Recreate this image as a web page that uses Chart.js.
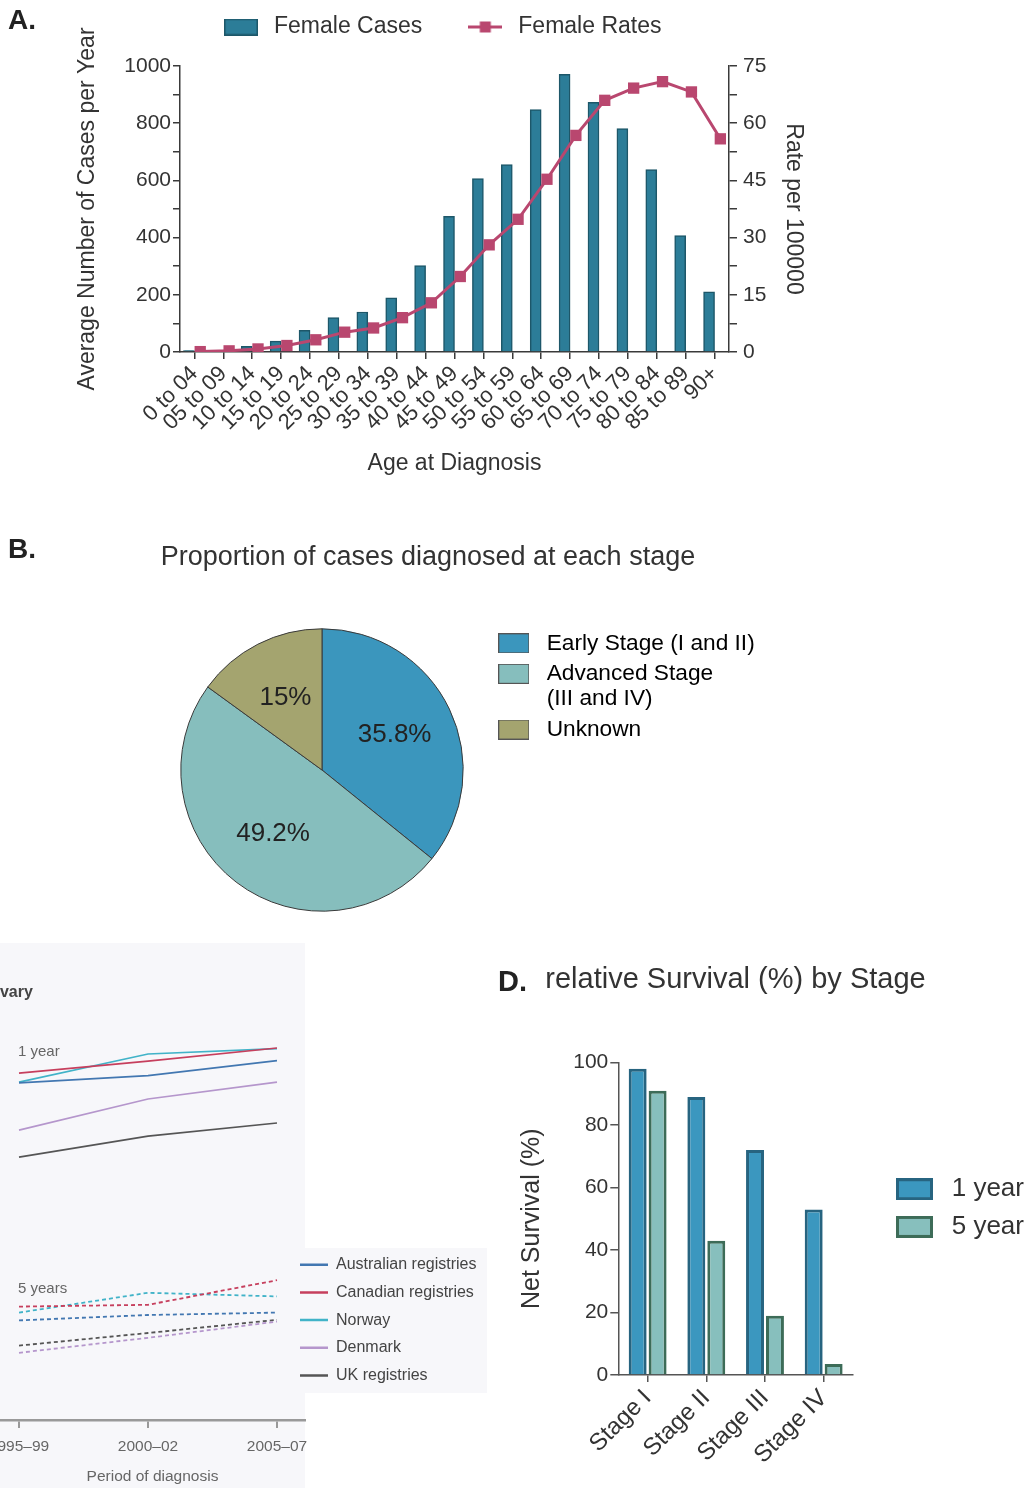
<!DOCTYPE html>
<html>
<head>
<meta charset="utf-8">
<title>Ovarian cancer figure</title>
<script src="https://cdn.jsdelivr.net/npm/chart.js@4.4.1/dist/chart.umd.min.js"></script>
<style>
  body { margin: 0; background: #fff; }
  #page { position: relative; width: 1026px; height: 1488px; overflow: hidden; font-family: 'Liberation Sans', Arial, sans-serif; }
  canvas { position: absolute; }
  .tag { position: absolute; font-weight: bold; color: #222; line-height: 1; }
  .paper { position: absolute; background: #f7f7fa; }
</style>
</head>
<body>
<div id="page">
  <div class="paper" style="left:0; top:943px; width:305px; height:545px"></div>
  <div class="paper" style="left:295px; top:1248px; width:192px; height:145px"></div>
  <canvas id="chartA" width="880" height="509" style="left:0; top:-9px"></canvas>
  <canvas id="chartB" width="856" height="400" style="left:0; top:530px"></canvas>
  <canvas id="chartC" width="500" height="545" style="left:0; top:943px"></canvas>
  <canvas id="chartD" width="581" height="538" style="left:445px; top:950px"></canvas>
  <div class="tag" style="left:8px; top:6px; font-size:28px">A.</div>
  <div class="tag" style="left:8px; top:535px; font-size:28px">B.</div>
  <div class="tag" style="left:498px; top:967px; font-size:29px">D.</div>
</div>
<script>
'use strict'

// Panel A: cases and rates by age
const ageGroups = ['0 to 04', '05 to 09', '10 to 14', '15 to 19', '20 to 24', '25 to 29', '30 to 34',
  '35 to 39', '40 to 44', '45 to 49', '50 to 54', '55 to 59', '60 to 64', '65 to 69', '70 to 74',
  '75 to 79', '80 to 84', '85 to 89', '90+'];
const femaleCases = [5, 6, 20, 38, 76, 120, 140, 189, 302, 474, 606, 655, 848, 971, 873, 781, 638, 407, 210];
const femaleRates = [0.1, 0.3, 0.8, 1.7, 3.2, 5.2, 6.3, 9.0, 12.9, 19.8, 28.1, 34.8, 45.3, 56.8, 66.0, 69.2, 70.9, 68.2, 55.9];

// Panel B: stage at diagnosis
const stageGroups = [['Early Stage (I and II)'], ['Advanced Stage', '(III and IV)'], ['Unknown']];
const stageShares = [35.8, 49.2, 15];

// Panel C: survival trends by registry
const periods = ['1995–99', '2000–02', '2005–07'];
const registries = ['Australian registries', 'Canadian registries', 'Norway', 'Denmark', 'UK registries'];
const oneYearAustralia = [74.2, 75.4, 77.9];
const oneYearCanada = [75.8, 77.8, 80.0];
const oneYearNorway = [74.3, 79.0, 79.9];
const oneYearDenmark = [66.3, 71.5, 74.3];
const oneYearUK = [61.8, 65.3, 67.5];
const fiveYearAustralia = [34.6, 35.5, 35.9];
const fiveYearCanada = [36.9, 37.2, 41.3];
const fiveYearNorway = [35.9, 39.2, 38.6];
const fiveYearDenmark = [29.2, 31.7, 34.4];
const fiveYearUK = [30.4, 32.5, 34.7];

// Panel D: survival by stage
const stages = ['Stage I', 'Stage II', 'Stage III', 'Stage IV'];
const oneYearByStage = [98, 89, 72, 53];
const fiveYearByStage = [91, 43, 19, 3.5];

Chart.defaults.font.family = "'Liberation Sans', Arial, sans-serif";
Chart.defaults.color = '#333';
Chart.defaults.animation = false;

const sans = "'Liberation Sans', Arial, sans-serif";
const narrow = "'Liberation Sans Narrow', 'Liberation Sans', sans-serif";
const ink = '#3a3a3a';

// moves a legend after layout (dx / dy in px), extend widens its clip box
const legendOffset = {
  id: 'legendOffset',
  afterLayout(chart, args, opts) {
    const lg = chart.legend;
    if (!lg || !opts) return;
    const dx = opts.dx || 0;
    const dy = opts.dy || 0;
    lg.left += dx; lg.right += dx + (opts.extend || 0);
    lg.width += opts.extend || 0;
    lg.top += dy; lg.bottom += dy;
  }
};
Chart.register(legendOffset);

function makeIcon(w, h, paint) {
  const c = document.createElement('canvas');
  c.width = w;
  c.height = h;
  paint(c.getContext('2d'), w, h);
  return c;
}

// ---------- A ----------
const caseFill = '#2c7d98';
const caseEdge = '#1d5769';
const rateColor = '#b9476f';

const casesIcon = makeIcon(34, 17, (g, w, h) => {
  g.fillStyle = caseFill; g.fillRect(0, 0, w, h);
  g.strokeStyle = caseEdge; g.lineWidth = 1.5; g.strokeRect(0.75, 0.75, w - 1.5, h - 1.5);
});
const ratesIcon = makeIcon(34, 17, (g, w, h) => {
  g.strokeStyle = rateColor; g.lineWidth = 3;
  g.beginPath(); g.moveTo(0, h / 2); g.lineTo(w, h / 2); g.stroke();
  g.fillStyle = rateColor; g.fillRect(w / 2 - 5.5, h / 2 - 5.5, 11, 11);
});

// the left title is longer than the axis, so it is drawn here instead of the scale title
const sideTitle = {
  id: 'sideTitle',
  afterDraw(chart, args, opts) {
    const s = chart.scales[opts.axis];
    const ctx = chart.ctx;
    ctx.save();
    ctx.translate(s.left + opts.inset, (s.top + s.bottom) / 2);
    ctx.rotate(-Math.PI / 2);
    ctx.font = opts.size + 'px ' + sans;
    ctx.fillStyle = '#333';
    ctx.textAlign = 'center';
    ctx.textBaseline = 'middle';
    ctx.fillText(opts.text, 0, 0);
    ctx.restore();
  }
};

const barShift = -0.19;
const markerShift = 0.2;

new Chart(document.getElementById('chartA'), {
  type: 'bar',
  data: {
    datasets: [
      {
        type: 'line',
        label: 'Female Rates',
        data: femaleRates.map((v, i) => ({ x: i + markerShift, y: v })),
        yAxisID: 'yRate',
        borderColor: rateColor,
        backgroundColor: rateColor,
        borderWidth: 3,
        pointStyle: 'rect',
        pointRadius: 8,
        pointBorderWidth: 0,
        tension: 0
      },
      {
        label: 'Female Cases',
        data: femaleCases.map((v, i) => ({ x: i + barShift, y: v })),
        yAxisID: 'yCases',
        backgroundColor: caseFill,
        borderColor: caseEdge,
        borderWidth: 1.5,
        barThickness: 11
      }
    ]
  },
  plugins: [sideTitle],
  options: {
    responsive: false,
    layout: { padding: { left: 74, right: 73, top: 0.5, bottom: 22.2 } },
    plugins: {
      legend: {
        position: 'top',
        labels: {
          usePointStyle: true,
          pointStyleWidth: 43,
          padding: 41.5,
          font: { size: 23 },
          color: '#333',
          sort: (a, b) => b.datasetIndex - a.datasetIndex,
          generateLabels: chart => Chart.defaults.plugins.legend.labels.generateLabels(chart)
            .map(it => Object.assign(it, { pointStyle: it.datasetIndex === 1 ? casesIcon : ratesIcon }))
        }
      },
      legendOffset: { dy: -17.5 },
      sideTitle: { axis: 'yCases', inset: 13.8, size: 23, text: 'Average Number of Cases per Year' },
      tooltip: { enabled: false }
    },
    scales: {
      x: {
        type: 'linear',
        offset: false,
        min: -0.5,
        max: ageGroups.length - 0.5,
        afterBuildTicks: s => { s.ticks = ageGroups.map((_, i) => ({ value: i })); },
        ticks: { autoSkip: false, minRotation: 45, maxRotation: 45, padding: 2, font: { size: 22 }, callback: v => ageGroups[v] },
        grid: { offset: false, drawOnChartArea: false, tickLength: 7, color: ink, lineWidth: 1.5 },
        border: { color: ink, width: 1.5 },
        title: { display: true, text: 'Age at Diagnosis', font: { size: 23 }, padding: 0 },
        afterFit: s => { s.height = 125.8; }
      },
      yCases: {
        position: 'left',
        min: 0,
        max: 1000,
        ticks: { stepSize: 100, padding: 2, font: { size: 21 }, callback: v => (v % 200 === 0 ? v : '') },
        grid: { drawOnChartArea: false, tickLength: 7, color: ink, lineWidth: 1.5 },
        border: { color: ink, width: 1.5 },
        afterFit: s => { s.width = 106; }
      },
      yRate: {
        position: 'right',
        min: 0,
        max: 75,
        ticks: { stepSize: 7.5, padding: 6, font: { size: 21 }, callback: v => (v % 15 === 0 ? v : '') },
        grid: { drawOnChartArea: false, tickLength: 8, color: ink, lineWidth: 1.5 },
        border: { color: ink, width: 1.5 },
        title: { display: true, text: 'Rate per 100000', font: { size: 23 }, padding: 0 },
        afterFit: s => { s.width = 78; }
      }
    }
  }
});

// ---------- B ----------
const stageColors = ['#3b96bd', '#86bebd', '#a4a46f'];
const stageIcons = stageColors.map(c => makeIcon(31, 20, (g, w, h) => {
  g.fillStyle = c; g.fillRect(0, 0, w, h);
  g.strokeStyle = '#555'; g.lineWidth = 1; g.strokeRect(0.5, 0.5, w - 1, h - 1);
}));

const sliceLabels = {
  id: 'sliceLabels',
  afterDatasetsDraw(chart, args, opts) {
    const ctx = chart.ctx;
    const values = chart.data.datasets[0].data;
    ctx.save();
    ctx.font = opts.size + 'px ' + sans;
    ctx.fillStyle = '#222';
    ctx.textAlign = 'center';
    ctx.textBaseline = 'middle';
    chart.getDatasetMeta(0).data.forEach((arc, i) => {
      const p = arc.getProps(['x', 'y', 'startAngle', 'endAngle', 'outerRadius'], true);
      const mid = (p.startAngle + p.endAngle) / 2;
      const r = p.outerRadius * opts.radius;
      ctx.fillText(values[i] + '%', p.x + Math.cos(mid) * r, p.y + Math.sin(mid) * r);
    });
    ctx.restore();
  }
};

new Chart(document.getElementById('chartB'), {
  type: 'pie',
  data: {
    labels: stageGroups,
    datasets: [{
      data: stageShares,
      backgroundColor: stageColors,
      borderColor: '#3a3a3a',
      borderWidth: 1,
      hoverOffset: 0
    }]
  },
  plugins: [sliceLabels],
  options: {
    responsive: false,
    layout: { padding: { left: 0, right: 0, top: 0, bottom: 18.3 } },
    plugins: {
      title: {
        display: true,
        text: 'Proportion of cases diagnosed at each stage',
        font: { size: 27, weight: 'normal' },
        color: '#333',
        padding: { top: 11.8, bottom: 54.1 }
      },
      legend: {
        position: 'right',
        align: 'start',
        fullSize: false,
        maxWidth: 212,
        labels: {
          usePointStyle: true,
          pointStyleWidth: 43,
          padding: 5,
          font: { size: 22.7, lineHeight: 1.119 },
          color: '#333',
          generateLabels: () => stageGroups.map((text, i) => ({
            text, fillStyle: stageColors[i], strokeStyle: '#555', lineWidth: 1,
            pointStyle: stageIcons[i], hidden: false, index: i
          }))
        }
      },
      legendOffset: { dx: -156.7, dy: -1.3, extend: 160 },
      sliceLabels: { radius: 0.57, size: 26 },
      tooltip: { enabled: false }
    }
  }
});

// ---------- C ----------
const registryColors = ['#4277b1', '#c63f5d', '#41b3c8', '#b596cc', '#555555'];
const oneYearSeries = [oneYearAustralia, oneYearCanada, oneYearNorway, oneYearDenmark, oneYearUK];
const fiveYearSeries = [fiveYearAustralia, fiveYearCanada, fiveYearNorway, fiveYearDenmark, fiveYearUK];
const toPoints = vals => vals.map((v, i) => ({ x: i, y: v }));

const panelNotes = {
  id: 'panelNotes',
  afterDraw(chart, args, opts) {
    const { ctx, scales } = chart;
    opts.items.forEach(n => {
      ctx.save();
      ctx.font = (n.bold ? 'bold ' : '') + n.size + 'px ' + narrow;
      ctx.fillStyle = n.color;
      ctx.textAlign = 'left';
      ctx.textBaseline = 'middle';
      ctx.fillText(n.text, scales.x.getPixelForValue(n.x) + n.dx, scales.y.getPixelForValue(n.y));
      ctx.restore();
    });
  }
};

new Chart(document.getElementById('chartC'), {
  type: 'line',
  data: {
    datasets: [
      ...registries.map((name, k) => ({
        label: name,
        data: toPoints(oneYearSeries[k]),
        borderColor: registryColors[k],
        borderWidth: 1.7,
        pointRadius: 0,
        tension: 0
      })),
      ...registries.map((name, k) => ({
        label: name + ' (5 years)',
        data: toPoints(fiveYearSeries[k]),
        borderColor: registryColors[k],
        borderWidth: 1.8,
        borderDash: [4, 3],
        pointRadius: 0,
        tension: 0
      }))
    ]
  },
  plugins: [panelNotes],
  options: {
    responsive: false,
    layout: { padding: { left: 0, right: 195, top: 15, bottom: 2 } },
    plugins: {
      legend: {
        position: 'chartArea',
        align: 'start',
        labels: {
          usePointStyle: true,
          pointStyleWidth: 28,
          padding: 11.7,
          font: { family: narrow, size: 16 },
          color: '#444',
          filter: item => item.datasetIndex < registries.length,
          generateLabels: chart => Chart.defaults.plugins.legend.labels.generateLabels(chart)
            .map(it => Object.assign(it, { pointStyle: 'line', lineWidth: 2.5 }))
        }
      },
      legendOffset: { dx: 288.3, dy: 302 },
      panelNotes: {
        items: [
          { text: 'Ovary', x: 0, y: 89.3, dx: -31.5, bold: true, size: 16, color: '#444' },
          { text: '1 year', x: 0, y: 79.4, dx: -1, size: 15, color: '#666' },
          { text: '5 years', x: 0, y: 39.8, dx: -1, size: 15, color: '#666' }
        ]
      },
      tooltip: { enabled: false }
    },
    scales: {
      x: {
        type: 'linear',
        offset: false,
        min: -19 / 129,
        max: 286 / 129,
        afterBuildTicks: s => { s.ticks = periods.map((_, i) => ({ value: i })); },
        ticks: { autoSkip: false, maxRotation: 0, padding: 9, font: { family: narrow, size: 15.5 }, color: '#666', callback: v => periods[v] },
        grid: { drawOnChartArea: false, tickLength: 8, color: '#999', lineWidth: 2 },
        border: { color: '#999', width: 2.5 },
        title: { display: true, text: 'Period of diagnosis', font: { family: narrow, size: 15.5 }, color: '#666', padding: 0 },
        afterFit: s => { s.height = 66; s.paddingLeft = 0; s.paddingRight = 0; }
      },
      y: { display: false, min: 18, max: 95 }
    }
  }
});

// ---------- D ----------
const oneYearFill = '#3b97bf';
const oneYearEdge = '#276480';
const fiveYearFill = '#87bfbd';
const fiveYearEdge = '#3d6c58';
const survivalIcons = [[oneYearFill, oneYearEdge], [fiveYearFill, fiveYearEdge]].map(([f, e]) => makeIcon(37, 22, (g, w, h) => {
  g.fillStyle = f; g.fillRect(0, 0, w, h);
  g.strokeStyle = e; g.lineWidth = 3; g.strokeRect(1.5, 1.5, w - 3, h - 3);
}));

new Chart(document.getElementById('chartD'), {
  type: 'bar',
  data: {
    labels: stages,
    datasets: [
      { label: '1 year', data: oneYearByStage, backgroundColor: oneYearFill, borderColor: oneYearEdge, borderWidth: 3, categoryPercentage: 0.68, barPercentage: 0.9 },
      { label: '5 year', data: fiveYearByStage, backgroundColor: fiveYearFill, borderColor: fiveYearEdge, borderWidth: 3, categoryPercentage: 0.68, barPercentage: 0.9 }
    ]
  },
  options: {
    responsive: false,
    layout: { padding: { left: 71.7, right: 71.7, top: 0, bottom: 0 } },
    plugins: {
      title: {
        display: true,
        text: 'relative Survival (%) by Stage',
        font: { size: 29, weight: 'normal' },
        color: '#333',
        padding: { top: 12.6, bottom: 65.1 }
      },
      legend: {
        position: 'right',
        align: 'start',
        fullSize: false,
        maxWidth: 101.3,
        labels: {
          usePointStyle: true,
          pointStyleWidth: 48.4,
          padding: 11.7,
          font: { size: 26 },
          color: '#333',
          generateLabels: chart => Chart.defaults.plugins.legend.labels.generateLabels(chart)
            .map(it => Object.assign(it, { pointStyle: survivalIcons[it.datasetIndex] }))
        }
      },
      legendOffset: { dx: 25.6, dy: 102, extend: 60 },
      tooltip: { enabled: false }
    },
    scales: {
      x: {
        offset: true,
        grid: { offset: false, drawOnChartArea: false, tickLength: 7, color: '#555', lineWidth: 1.5 },
        border: { color: '#555', width: 1.5 },
        ticks: { autoSkip: false, minRotation: 45, maxRotation: 45, padding: 2, font: { size: 24 }, color: '#333' },
        afterFit: s => { s.height = 113; }
      },
      y: {
        min: 0,
        max: 100,
        ticks: { stepSize: 20, padding: 2, font: { size: 21 } },
        grid: { drawOnChartArea: false, tickLength: 8, color: '#555', lineWidth: 1.5 },
        border: { color: '#555', width: 1.5 },
        title: { display: true, text: 'Net Survival (%)', font: { size: 25 }, padding: 0 },
        afterFit: s => { s.width = 101.6; }
      }
    }
  }
});
</script>
</body>
</html>
